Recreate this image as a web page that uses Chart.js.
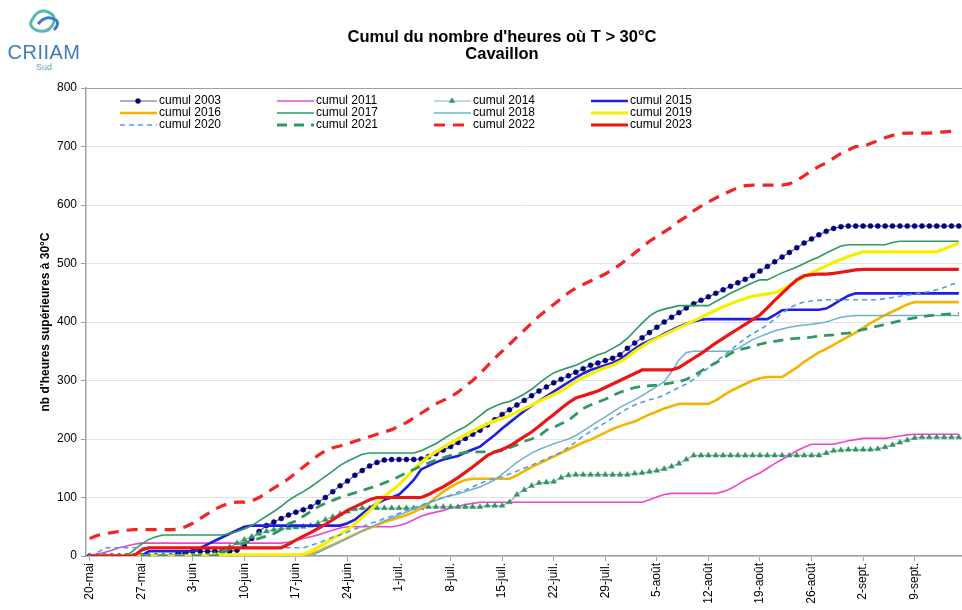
<!DOCTYPE html>
<html>
<head>
<meta charset="utf-8">
<script src="https://cdn.jsdelivr.net/npm/chart.js@4/dist/chart.umd.min.js"></script>
<style>
  body { margin: 0; background: #fff; }
  #wrap { position: relative; width: 962px; height: 610px; overflow: hidden; font-family: "Liberation Sans", Arial, sans-serif; }
  #chart { position: absolute; left: 0; top: 0; }
  #title { position: absolute; left: 252px; width: 500px; top: 28px; text-align: center;
           font-weight: bold; font-size: 16.5px; line-height: 17px; color: #000; }
  #logo { position: absolute; left: 4px; top: 6px; width: 80px; text-align: center; }
  #logo .name { font-size: 20px; color: #3f7dba; letter-spacing: 0.5px; line-height: 20px; margin-top: 2px; }
  #logo .sub { font-size: 9px; color: #5aa0b8; line-height: 10px; }
</style>
</head>
<body>
<div id="wrap">
  <canvas id="chart" width="967" height="610"></canvas>
  <div id="title">Cumul du nombre d'heures où T &gt; 30°C<br>Cavaillon</div>
  <div id="logo">
    <svg width="40" height="30" viewBox="0 0 40 30">
      <path d="M8 14 Q14 2 24 6 Q34 10 28 20 Q22 28 12 24 Q4 20 8 14 Z" fill="none" stroke="#5bb8b2" stroke-width="3"/>
      <path d="M14 18 Q22 8 32 14 Q36 18 30 24" fill="none" stroke="#3f7dba" stroke-width="3"/>
    </svg>
    <div class="name">CRIIAM</div>
    <div class="sub">Sud</div>
  </div>
</div>
<script>
// Categories: one per day, 20 May to 15 Sept
const monthSpans = [['mai', 20, 31], ['juin', 1, 30], ['juil.', 1, 31], ['août', 1, 31], ['sept.', 1, 15]];
const dayLabels = [];
monthSpans.forEach(function(m) {
    for (let d = m[1]; d <= m[2]; d++) dayLabels.push(d + '-' + m[0]);
});

const seriesNames = ['cumul 2003', 'cumul 2011', 'cumul 2014', 'cumul 2015',
                     'cumul 2016', 'cumul 2017', 'cumul 2018', 'cumul 2019',
                     'cumul 2020', 'cumul 2021', 'cumul 2022', 'cumul 2023'];

// Cumulative hours above 30°C, one value per day
const cumul2003 = [
    0,0,0,0,0,0,0, 0,0,0,0,0,5,5, 8,8,8,8,8,8,10, 18,30,42,52,58,64,70,
    75,79,84,92,100,110,120, 128,138,146,154,160,164,165, 165,165,165,166,170,175,181,
    187,194,201,208,215,224,233, 242,250,258,266,274,282,289, 296,302,308,314,320,326,330,
    334,338,344,355,364,373,382, 391,400,408,416,424,431,437, 443,449,455,461,467,473,479,
    487,495,503,511,519,527,535, 542,549,555,560,563,564,564, 564,564,564,564,564,564,564,
    564,564,564,564,564,564,564];
const cumul2011 = [
    0,3,6,10,14,17,20, 22,22,22,22,22,22,22, 22,22,22,22,22,22,22, 22,22,22,22,22,22,24,
    27,30,33,36,40,44,48, 50,50,50,50,50,50,50, 52,56,62,68,72,75,78,
    82,85,88,90,92,92,92, 92,92,92,92,92,92,92, 92,92,92,92,92,92,92,
    92,92,92,92,92,92,96, 101,105,107,107,107,107,107, 107,107,110,115,122,130,136,
    142,150,158,165,172,180,186, 191,191,191,191,194,197,199, 201,201,201,201,203,205,207,
    208,208,208,208,208,208,208];
const cumul2014 = [
    0,0,0,0,0,0,0, 0,0,0,0,0,0,0, 0,0,0,3,8,15,22, 28,33,38,42,45,47,48,
    49,50,52,56,62,67,72, 76,80,82,82,82,82,82, 82,82,82,82,84,84,84,
    84,84,84,84,84,86,86, 86,92,105,113,120,125,126, 127,134,138,139,139,139,139,
    139,139,139,139,141,142,144, 146,149,153,158,165,172,172, 172,172,172,172,172,172,172,
    172,172,172,172,172,172,172, 172,172,176,180,181,182,182, 182,182,183,186,190,194,198,
    202,203,203,203,203,203,203];
const cumul2015 = [
    0,0,0,0,0,0,0, 0,8,8,8,8,8,8, 8,14,20,26,32,38,44, 50,52,52,52,52,52,52,
    52,52,52,52,52,52,52, 56,62,72,82,90,96,100, 105,117,130,148,154,160,165,
    168,171,177,182,187,197,207, 218,228,238,248,257,265,273, 281,289,297,305,312,318,322,
    326,330,336,345,354,362,368, 373,380,386,392,397,401,404, 405,405,405,405,405,405,405,
    405,405,412,420,421,421,421, 421,421,423,430,438,445,449, 449,449,449,449,449,449,449,
    449,449,449,449,449,449,449];
const cumul2016 = [
    0,0,0,0,0,0,0, 0,0,0,0,0,0,0, 0,0,0,0,0,0,0, 0,0,0,0,0,0,0,
    0,0,3,8,14,19,25, 31,37,43,48,53,58,62, 66,70,75,82,90,100,110,
    118,125,130,132,132,132,132, 132,132,138,145,152,158,164, 170,176,182,188,194,199,205,
    211,217,222,226,230,236,242, 247,252,256,260,260,260,260, 260,266,274,282,288,294,300,
    304,306,306,306,314,322,332, 340,348,354,361,368,375,382, 390,398,405,412,418,424,430,
    434,434,434,434,434,434,434];
const cumul2017 = [
    0,0,0,0,0,0,10, 20,28,33,36,36,36,36, 36,36,36,36,36,38,42, 46,52,60,68,76,85,95,
    103,110,118,127,136,145,155, 162,168,174,176,176,176,176, 176,176,176,180,186,192,200,
    208,215,221,230,240,250,256, 261,264,270,277,285,295,305, 313,318,322,326,332,338,344,
    348,355,362,372,385,398,410, 418,422,425,428,428,428,428, 428,435,442,449,455,461,467,
    472,472,478,484,489,494,500, 506,511,518,524,530,532,532, 532,532,532,532,536,538,538,
    538,538,538,538,538,538,538];
const cumul2018 = [
    0,0,0,0,0,0,0, 0,0,0,0,0,0,0, 0,0,0,0,0,0,0, 0,0,0,0,0,0,0,
    0,0,0,6,12,18,24, 30,36,42,48,54,60,65, 70,75,80,85,90,95,100,
    103,106,110,114,118,124,130, 140,150,160,168,176,182,187, 192,196,200,206,214,222,230,
    238,246,254,261,267,274,282, 290,298,315,335,348,350,350, 350,350,350,350,355,362,370,
    375,380,385,388,391,393,395, 396,398,400,404,408,410,411, 411,411,411,411,411,411,411,
    411,411,411,411,411,411,411];
const cumul2019 = [
    0,0,0,0,0,0,0, 0,0,0,0,0,0,0, 0,0,0,2,2,2,2, 2,2,2,2,2,2,2,
    2,3,8,15,22,30,37, 45,55,66,77,90,102,112, 122,135,148,160,170,178,186,
    193,200,207,214,220,226,231, 235,240,246,252,258,264,270, 276,282,290,298,305,311,317,
    322,326,332,340,350,358,366, 372,378,384,390,396,402,408, 414,420,426,431,436,440,444,
    446,448,450,455,463,470,477, 484,490,496,502,507,512,516, 520,520,520,520,520,520,520,
    520,520,520,520,525,530,535];
const cumul2020 = [
    0,5,14,14,14,14,14, 14,14,14,14,14,14,14, 14,14,14,14,14,14,14, 14,14,14,14,14,14,14,
    14,14,18,22,27,32,36, 41,46,50,55,59,64,68, 73,78,82,87,91,96,100,
    104,109,113,118,124,129,133, 135,140,145,150,155,161,166, 172,177,186,195,205,213,220,
    228,236,244,252,258,263,267, 270,275,282,288,294,302,312, 322,332,342,352,362,372,380,
    387,395,405,415,424,430,434, 436,437,438,438,438,438,438, 438,438,438,440,442,444,446,
    448,450,452,455,459,464,468];
const cumul2021 = [
    0,0,0,0,0,0,0, 0,0,0,0,0,0,0, 0,0,0,0,5,12,18, 22,26,30,34,38,45,55,
    60,68,76,84,90,95,100, 104,108,112,116,120,125,130, 136,142,148,154,159,164,168,
    172,175,177,178,178,178,178, 180,185,190,196,200,205,215, 220,226,232,242,252,258,263,
    268,274,280,284,288,290,291, 292,294,296,298,302,308,316, 324,330,338,346,352,355,358,
    362,365,367,369,371,372,373, 374,376,377,378,380,381,384, 387,390,393,396,399,402,405,
    407,409,411,412,413,414,415];
const cumul2022 = [
    30,35,38,40,42,44,45, 45,45,45,45,45,46,50, 56,64,72,80,86,90,92, 92,94,100,108,116,124,132,
    142,152,162,172,180,185,188, 192,196,200,204,208,212,216, 222,228,236,244,252,260,266,
    272,280,290,300,312,325,338, 350,362,374,386,398,410,420, 430,440,450,458,464,470,476,
    482,490,498,508,518,528,538, 546,554,562,572,580,590,598, 605,612,618,624,630,633,634,
    634,634,634,634,636,642,650, 658,666,672,680,688,694,700, 700,705,710,715,719,722,723,
    723,723,723,724,725,726,726];
const cumul2023 = [
    0,0,0,0,0,0,0, 10,14,14,14,14,14,14, 14,14,14,14,14,14,14, 14,14,14,14,14,14,20,
    27,34,40,47,54,62,70, 78,84,90,96,100,100,100, 100,100,100,100,105,112,118,
    126,134,143,152,162,172,178, 182,188,196,204,212,222,232, 242,252,262,270,274,278,282,
    288,294,300,306,312,318,318, 318,318,318,322,330,338,346, 355,364,372,380,388,396,404,
    412,424,437,449,461,472,479, 481,482,482,483,485,487,489, 490,490,490,490,490,490,490,
    490,490,490,490,490,490,490];

const seriesValues = [cumul2003, cumul2011, cumul2014, cumul2015, cumul2016, cumul2017,
                      cumul2018, cumul2019, cumul2020, cumul2021, cumul2022, cumul2023];

// y axis ticks
const yMin = 0, yMax = 800, yStep = 100;

const fontFamily = '"Liberation Sans", Arial, sans-serif';

// line styles for each series, same order as seriesNames
const styles = [
    { color: '#5b5b9e', width: 1.2, dash: [], point: 'circle', pointRadius: 2.5, pointColor: '#000080' },
    { color: '#ee44cc', width: 1.6, dash: [] },
    { color: '#86b5a3', width: 1.2, dash: [], point: 'triangle', pointRadius: 3.2, pointColor: '#2f9461' },
    { color: '#1f1fe0', width: 2.6, dash: [] },
    { color: '#f4b400', width: 2.6, dash: [] },
    { color: '#2e9a62', width: 1.6, dash: [] },
    { color: '#6fb0d0', width: 1.5, dash: [] },
    { color: '#f7ef00', width: 3.2, dash: [] },
    { color: '#4e9de6', width: 1.6, dash: [5, 4] },
    { color: '#2e9a62', width: 2.8, dash: [10, 7] },
    { color: '#f22424', width: 3.2, dash: [11, 8] },
    { color: '#ec1515', width: 3.2, dash: [] }
];

const datasets = seriesNames.map(function(name, i) {
    const s = styles[i];
    return {
        label: name,
        data: seriesValues[i],
        borderColor: s.color,
        borderWidth: s.width,
        borderDash: s.dash,
        tension: 0,
        fill: false,
        pointStyle: s.point || 'circle',
        pointRadius: s.point ? s.pointRadius : 0,
        pointBackgroundColor: s.pointColor || s.color,
        pointBorderColor: s.pointColor || s.color,
        pointBorderWidth: 0.5,
        order: seriesNames.length - 1 - i
    };
});

// Legend drawn inside the plot, 4 columns x 3 rows
const insideLegend = {
    id: 'insideLegend',
    afterDraw: function(chart) {
        const ctx = chart.ctx;
        ctx.save();
        ctx.font = '12px ' + fontFamily;
        ctx.textBaseline = 'middle';
        chart.data.datasets.forEach(function(ds, i) {
            const x0 = 120 + (i % 4) * 157;
            const y = 101 + Math.floor(i / 4) * 12;
            ctx.strokeStyle = ds.borderColor;
            ctx.lineWidth = ds.borderWidth;
            ctx.setLineDash(ds.borderDash);
            ctx.beginPath();
            ctx.moveTo(x0, y);
            ctx.lineTo(x0 + 37, y);
            ctx.stroke();
            ctx.setLineDash([]);
            if (ds.pointRadius > 0) {
                ctx.fillStyle = ds.pointBackgroundColor;
                ctx.strokeStyle = ds.pointBorderColor;
                ctx.lineWidth = 0.5;
                Chart.helpers.drawPoint(ctx, { pointStyle: ds.pointStyle, radius: ds.pointRadius, borderWidth: 0.5, rotation: 0 }, x0 + 18, y);
            }
            ctx.fillStyle = '#000';
            ctx.fillText(ds.label, x0 + 39, y);
        });
        ctx.restore();
    }
};

const chart = new Chart(document.getElementById('chart').getContext('2d'), {
    type: 'line',
    data: { labels: dayLabels, datasets: datasets },
    options: {
        responsive: false,
        animation: false,
        layout: { padding: { top: 88, right: 0, bottom: 0, left: 38 } },
        plugins: {
            legend: { display: false },
            tooltip: { enabled: false },
            title: { display: false }
        },
        scales: {
            x: {
                offset: true,
                ticks: {
                    autoSkip: false,
                    minRotation: 90,
                    maxRotation: 90,
                    padding: 2,
                    color: '#000',
                    font: { family: fontFamily, size: 12 },
                    callback: function(value, index) {
                        return index % 7 === 0 ? dayLabels[index] : '';
                    }
                },
                grid: {
                    drawOnChartArea: false,
                    tickLength: 5,
                    color: function(c) { return c.index % 7 === 0 ? '#a0a0a0' : 'rgba(0,0,0,0)'; }
                },
                border: { color: '#a0a0a0', width: 1.5 },
                afterFit: function(scale) {
                    scale.height = 54;
                    scale.paddingLeft = 0;
                    scale.paddingRight = 0;
                }
            },
            y: {
                min: yMin,
                max: yMax,
                ticks: {
                    stepSize: yStep,
                    padding: 4,
                    color: '#000',
                    font: { family: fontFamily, size: 12 }
                },
                grid: {
                    tickLength: 5,
                    color: function(c) { return c.tick && c.tick.value === yMax ? '#a0a0a0' : '#e2e2e2'; },
                    tickColor: '#a0a0a0'
                },
                border: { color: '#a0a0a0', width: 1.5 },
                title: {
                    display: true,
                    text: "nb d'heures supérieures à 30°C",
                    color: '#000',
                    font: { family: fontFamily, size: 12, weight: 'bold' },
                    padding: 0
                },
                afterFit: function(scale) { scale.width = 48; }
            }
        }
    },
    plugins: [insideLegend]
});
</script>
</body>
</html>
